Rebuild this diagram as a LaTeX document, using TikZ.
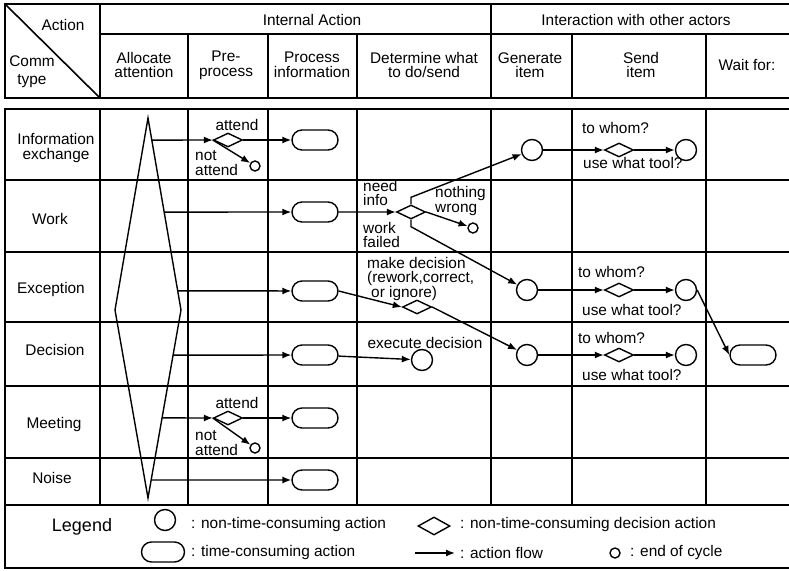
\documentclass[tikz,border=0pt]{standalone}
\usepackage{fontspec}
\setmainfont{Liberation Sans}
\usetikzlibrary{arrows.meta,shapes.geometric,shapes.misc,calc}

\begin{document}
\begin{tikzpicture}[x=1pt,y=-1pt,
  grid/.style={line width=1.6pt},
  txt/.style={font=\fontsize{15.4}{14.6}\selectfont, align=center, inner sep=0pt},
  lefttxt/.style={font=\fontsize{15.4}{14.6}\selectfont, align=left, inner sep=0pt},
  plain/.style={line width=1.4pt},
  flow/.style={line width=1.4pt, -{Latex[length=9pt,width=7pt]}},
  act/.style={circle, draw, line width=1.4pt, minimum size=21pt, inner sep=0pt},
  endc/.style={circle, draw, line width=1.4pt, minimum size=10pt, inner sep=0pt},
  tact/.style={rounded rectangle, draw, line width=1.4pt, minimum width=46pt, minimum height=20pt, inner sep=0pt},
  dec/.style={diamond, draw, line width=1.4pt, minimum width=29pt, minimum height=14pt, inner sep=0pt},
]
\useasboundingbox (0,0) rectangle (789,570);

% ---------- header block ----------
\draw[grid] (789,4) -- (5,4) -- (5,98) -- (789,98);
\draw[grid] (5,4) -- (100,98);
\draw[grid] (100,4) -- (100,98);
\draw[grid] (491,4) -- (491,98);
\draw[grid] (100,34) -- (789,34);
\foreach \cx in {188,268,357,572,706} \draw[grid] (\cx,34) -- (\cx,98);

\node[txt] (hAct) at (63,25) {Action};
\node[txt] (hComm) at (32,72) {Comm\\[3pt]type};
\node[txt] (hInt) at (312,20) {Internal Action};
\node[txt] (hExt) at (636,20) {Interaction with other actors};
\node[txt] (hAll) at (144,65) {Allocate\\attention};
\node[txt] (hPre) at (226,65) {Pre-\\process};
\node[txt] (hPro) at (312,65) {Process\\information};
\node[txt] (hDet) at (424,65) {Determine what\\to do/send};
\node[txt] (hGen) at (530,65) {Generate\\item};
\node[txt] (hSnd) at (641,65) {Send\\item};
\node[txt] (hWai) at (747,65) {Wait for:};

% ---------- body grid ----------
\draw[grid] (789,109) -- (5,109) -- (5,568) -- (789,568);
\foreach \ry in {180,252,322,386,458,505} \draw[grid] (5,\ry) -- (789,\ry);
\foreach \cx in {100,188,268,357,491,572,706} \draw[grid] (\cx,109) -- (\cx,505);

% row labels
\node[txt] (rInf) at (56,148) {Information\\exchange};
\node[txt] (rWrk) at (50,219) {Work};
\node[txt] (rExc) at (51,290) {Exception};
\node[txt] (rDec) at (55,350) {Decision};
\node[txt] (rMee) at (54,425) {Meeting};
\node[txt] (rNoi) at (52,478) {Noise};

% ---------- attention allocation diamond ----------
\coordinate (dT) at (148,118);
\coordinate (dL) at (115,310);
\coordinate (dR) at (181,310);
\coordinate (dB) at (148,498);
\draw[plain] (dT) -- (dR) -- (dB) -- (dL) -- cycle;
\coordinate (s1) at ($(dT)!0.115!(dR)$);
\coordinate (s2) at ($(dT)!0.49!(dR)$);
\coordinate (s3) at ($(dT)!0.90!(dR)$);
\coordinate (s4) at ($(dR)!0.24!(dB)$);
\coordinate (s5) at ($(dR)!0.574!(dB)$);
\coordinate (s6) at ($(dR)!0.904!(dB)$);

% ---------- information exchange ----------
\node[dec] (ia) at (228,140) {};
\node[tact] (ip) at (315,140) {};
\node[endc] (ie) at (255,166) {};
\draw[flow] (s1) -- (ia);
\draw[flow] (ia) -- (ip);
\draw[flow] (ia.west) -- (ie);
\node[txt] (iaY) at (237,125) {attend};
\node[lefttxt, anchor=west] (iaN) at (195,163) {not\\attend};

% ---------- work ----------
\node[tact] (wp) at (315,212) {};
\node[dec] (wd) at (411,212) {};
\node[endc] (we) at (473,228) {};
\draw[flow] (s2) -- (wp);
\draw[flow] (wp) -- (wd);
\draw[flow] (wd.east) -- (we);
\node[lefttxt, anchor=west] (wdA) at (363,193) {need\\info};
\node[lefttxt, anchor=west] (wdB) at (363,235) {work\\failed};
\node[lefttxt, anchor=west] (wdC) at (435,201) {nothing\\wrong};

% generate item circles
\node[act] (g1) at (532,150) {};
\node[act] (g3) at (527,290) {};
\node[act] (g4) at (527,355) {};
\draw[flow] (wd.north) -- ++(0,-7) -- (g1);
\draw[flow] (wd.south) -- ++(0,7) -- (g3);

% ---------- exception ----------
\node[tact] (ep) at (315,291) {};
\node[dec] (ed) at (417,307) {};
\draw[flow] (s3) -- (ep);
\draw[flow] (ep.east) -- (ed.west);
\draw[flow] (ed.east) -- (g4);
\node[lefttxt, anchor=north west] (edL) at (367,257)
  {make decision\\(rework,correct,\\\hspace{4pt}or ignore)};

% ---------- decision ----------
\node[tact] (dp) at (315,355) {};
\node[act] (dx) at (422,360) {};
\draw[flow] (s4) -- (dp);
\draw[flow] (dp) -- (dx);
\node[txt] (dxL) at (425,343) {execute decision};

% ---------- send item ----------
\node[dec] (sd1) at (619,150) {};
\node[act] (sc1) at (686,150) {};
\draw[flow] (g1) -- (sd1);
\draw[flow] (sd1) -- (sc1);
\node[txt, anchor=west] (sw1) at (582,128) {to whom?};
\node[txt, anchor=west] (st1) at (583,163) {use what tool?};

\node[dec] (sd3) at (619,290) {};
\node[act] (sc3) at (686,290) {};
\draw[flow] (g3) -- (sd3);
\draw[flow] (sd3) -- (sc3);
\node[txt, anchor=west] (sw3) at (578,272) {to whom?};
\node[txt, anchor=west] (st3) at (582,310) {use what tool?};

\node[dec] (sd4) at (619,355) {};
\node[act] (sc4) at (686,355) {};
\draw[flow] (g4) -- (sd4);
\draw[flow] (sd4) -- (sc4);
\node[txt, anchor=west] (sw4) at (578,338) {to whom?};
\node[txt, anchor=west] (st4) at (582,375) {use what tool?};

% wait for reply
\node[tact] (wt) at (753,355) {};
\draw[flow] (sc3.east) -- (wt.west);

% ---------- meeting ----------
\node[dec] (ma) at (228,418) {};
\node[tact] (mp) at (315,418) {};
\node[endc] (me) at (255,448) {};
\draw[flow] (s5) -- (ma);
\draw[flow] (ma) -- (mp);
\draw[flow] (ma.west) -- (me);
\node[txt] (maY) at (237,403) {attend};
\node[lefttxt, anchor=west] (maN) at (195,443) {not\\attend};

% ---------- noise ----------
\node[tact] (np) at (315,480) {};
\draw[flow] (s6) -- (np);

% ---------- legend ----------
\node[font=\fontsize{18}{18}\selectfont, inner sep=0pt] (lg) at (82,527) {Legend};
\node[act] (l1) at (165,520) {};
\node[txt, anchor=west] (l1t) at (191,525) {: non-time-consuming action};
\node[tact, minimum width=43pt] (l2) at (163,552) {};
\node[txt, anchor=west] (l2t) at (191,553) {: time-consuming action};
\node[dec, minimum width=32pt, minimum height=18pt] (l3) at (434,526) {};
\node[txt, anchor=west] (l3t) at (460,525) {: non-time-consuming decision action};
\coordinate (la) at (415,553);
\coordinate (lb) at (455,553);
\draw[flow] (la) -- (lb);
\node[txt, anchor=west] (lbt) at (460,553) {: action flow};
\node[endc] (l4) at (615,553) {};
\node[txt, anchor=west] (l4t) at (630,553) {: end of cycle};
\end{tikzpicture}
\end{document}
